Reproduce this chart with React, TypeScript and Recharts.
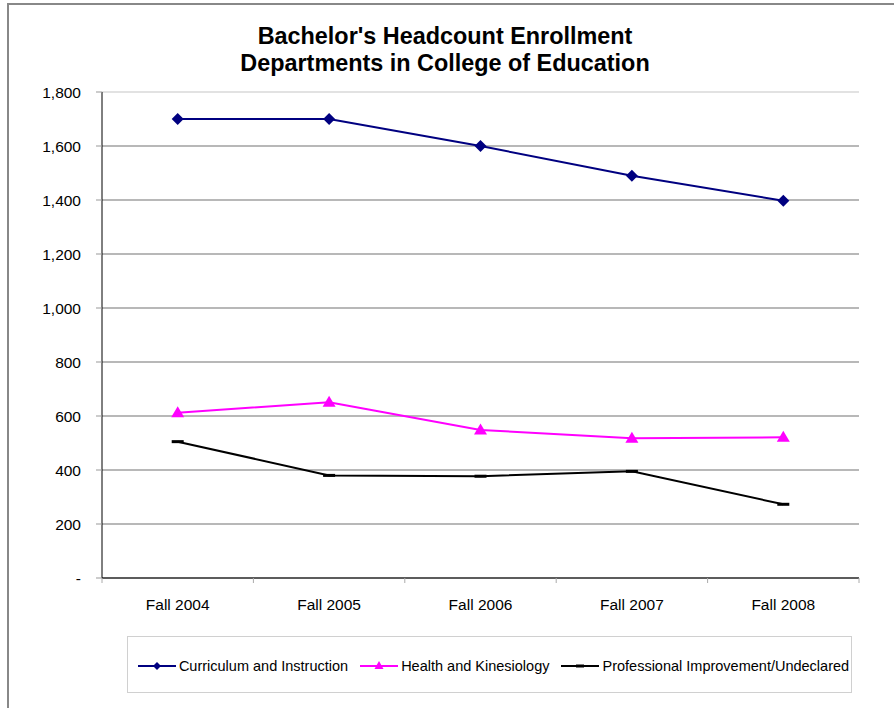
import * as React from "react";
import {
  LineChart,
  CartesianGrid,
  XAxis,
  YAxis,
  Legend,
  Line,
  ReferenceLine
} from "recharts";

const periods = ["Fall 2004", "Fall 2005", "Fall 2006", "Fall 2007", "Fall 2008"];
const curriculum = [1700, 1700, 1600, 1490, 1397];
const health = [612, 651, 548, 518, 521];
const professional = [505, 380, 377, 395, 273];
const yTicks = [0, 200, 400, 600, 800, 1000, 1200, 1400, 1600, 1800];

const seriesNames = [
  "Curriculum and Instruction",
  "Health and Kinesiology",
  "Professional Improvement/Undeclared"
];

const data = periods.map((p, i) => ({
  period: p,
  curriculum: curriculum[i],
  health: health[i],
  professional: professional[i]
}));

const W = 894;
const H = 708;
const M = { top: 92, right: 35, left: 0, bottom: 15 };
const Y_W = 102;
const HALF_BAND = (W - Y_W - M.right) / periods.length / 2;
const FONT = "'Liberation Sans', Arial, sans-serif";

function Diamond(props: any) {
  const { cx, cy } = props;
  if (cx == null || cy == null) return null;
  return (
    <polygon
      points={`${cx},${cy - 6} ${cx + 6},${cy} ${cx},${cy + 6} ${cx - 6},${cy}`}
      fill="#000080"
    />
  );
}

function Triangle(props: any) {
  const { cx, cy } = props;
  if (cx == null || cy == null) return null;
  return (
    <polygon
      points={`${cx},${cy - 6.5} ${cx + 6.5},${cy + 4.5} ${cx - 6.5},${cy + 4.5}`}
      fill="#FF00FF"
    />
  );
}

function Dash(props: any) {
  const { cx, cy } = props;
  if (cx == null || cy == null) return null;
  return <rect x={cx - 6} y={cy - 1.5} width={12} height={3} fill="#000" />;
}

function XTick(props: any) {
  const { x, y, payload, index } = props;
  return (
    <g>
      <line x1={x - HALF_BAND} y1={y} x2={x - HALF_BAND} y2={y + 5} stroke="#aaa" />
      {index === periods.length - 1 && (
        <line x1={x + HALF_BAND} y1={y} x2={x + HALF_BAND} y2={y + 5} stroke="#aaa" />
      )}
      <text
        x={x}
        y={y + 32}
        textAnchor="middle"
        fontSize={15.5}
        fontFamily={FONT}
        fill="#000"
      >
        {payload.value}
      </text>
    </g>
  );
}

function LegendBox() {
  const items = [
    { name: seriesNames[0], color: "#000080", marker: "diamond" },
    { name: seriesNames[1], color: "#FF00FF", marker: "triangle" },
    { name: seriesNames[2], color: "#000000", marker: "dash" }
  ];
  return (
    <div
      style={{
        border: "1px solid #d0d0d0",
        height: 57,
        width: 725,
        display: "flex",
        alignItems: "center",
        justifyContent: "center",
        fontFamily: FONT,
        fontSize: 14.5,
        color: "#000",
        paddingLeft: 8,
        paddingTop: 3,
        boxSizing: "border-box",
        whiteSpace: "nowrap"
      }}
    >
      {items.map((it, i) => (
        <span
          key={it.name}
          style={{
            display: "inline-flex",
            alignItems: "center",
            flexShrink: 0,
            marginRight: i < items.length - 1 ? 12 : 0
          }}
        >
          <svg width={38} height={12} style={{ marginRight: 3 }}>
            <line x1={0} y1={6} x2={38} y2={6} stroke={it.color} strokeWidth={2} />
            {it.marker === "diamond" && (
              <polygon points="19,2 23,6 19,10 15,6" fill={it.color} />
            )}
            {it.marker === "triangle" && (
              <polygon points="19,1 23.5,9 14.5,9" fill={it.color} />
            )}
            {it.marker === "dash" && <rect x={15} y={4.5} width={8} height={3} fill={it.color} />}
          </svg>
          {it.name}
        </span>
      ))}
    </div>
  );
}

export default function App() {
  return (
    <div
      style={{
        position: "absolute",
        left: 0,
        top: 0,
        width: W,
        height: H,
        background: "#fff",
        overflow: "hidden"
      }}
    >
      <div
        style={{
          position: "absolute",
          left: 7,
          top: 3,
          width: W,
          height: H,
          borderTop: "2px solid #888",
          borderLeft: "2px solid #888"
        }}
      />
      <div
        style={{
          position: "absolute",
          left: 0,
          top: 23,
          width: 890,
          textAlign: "center",
          fontFamily: FONT,
          fontWeight: "bold",
          fontSize: 23.4,
          lineHeight: "27px",
          color: "#000"
        }}
      >
        Bachelor's Headcount Enrollment
        <br />
        Departments in College of Education
      </div>
      <LineChart width={W} height={H} data={data} margin={M}>
        <CartesianGrid vertical={false} stroke="#a0a0a0" strokeWidth={1.5} />
        <ReferenceLine y={1800} stroke="#e2e2e2" strokeWidth={2} />
        <XAxis
          dataKey="period"
          scale="band"
          tickLine={false}
          tickSize={0}
          tickMargin={0}
          height={58}
          stroke="#000"
          tick={<XTick />}
          interval={0}
        />
        <YAxis
          width={Y_W}
          domain={[0, 1800]}
          ticks={yTicks}
          interval={0}
          tickSize={6}
          tickMargin={15}
          axisLine={{ stroke: "#000" }}
          tickLine={{ stroke: "#999" }}
          tick={{ fontSize: 15.5, fontFamily: FONT, fill: "#000" }}
          tickFormatter={(v: number) => (v === 0 ? "-" : v.toLocaleString("en-US"))}
        />
        <Legend
          verticalAlign="bottom"
          content={<LegendBox />}
          wrapperStyle={{ left: 127, width: 725, bottom: 15 }}
        />
        <Line
          dataKey="curriculum"
          name={seriesNames[0]}
          stroke="#000080"
          strokeWidth={2}
          dot={<Diamond />}
          isAnimationActive={false}
        />
        <Line
          dataKey="health"
          name={seriesNames[1]}
          stroke="#FF00FF"
          strokeWidth={2}
          dot={<Triangle />}
          isAnimationActive={false}
        />
        <Line
          dataKey="professional"
          name={seriesNames[2]}
          stroke="#000000"
          strokeWidth={2}
          dot={<Dash />}
          isAnimationActive={false}
        />
      </LineChart>
    </div>
  );
}
